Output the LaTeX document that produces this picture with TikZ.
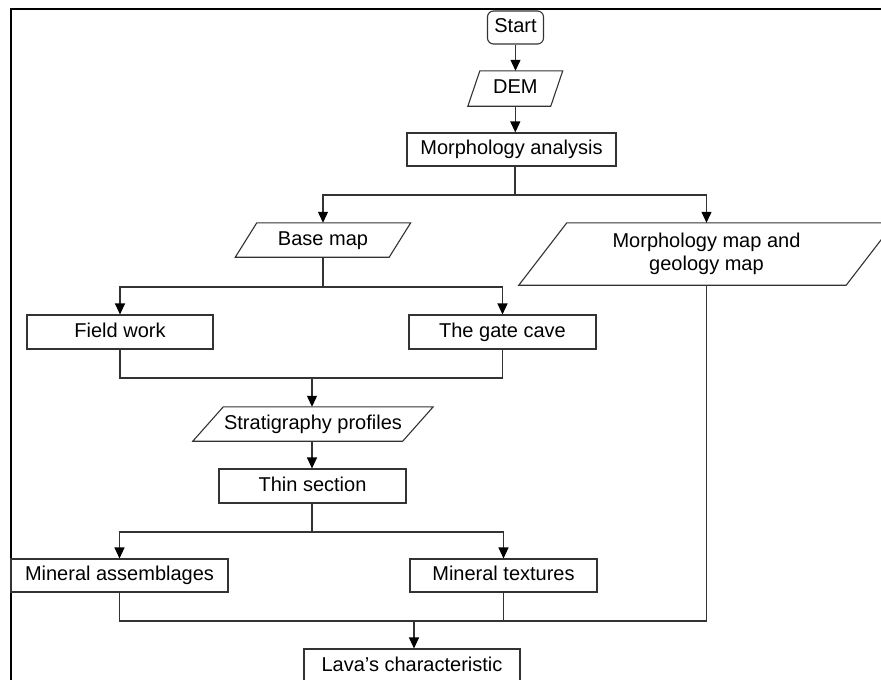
\documentclass[tikz,border=0pt]{standalone}
\usepackage{fontspec}
\setmainfont{Liberation Sans}
\usetikzlibrary{arrows.meta,calc}
\definecolor{lc}{gray}{0.2}
\newcommand\iobox[2]{\draw[line] ([xshift={0.5*#2}]#1.north west) -- ([xshift={0.5*#2}]#1.north east) -- ([xshift={-0.5*#2}]#1.south east) -- ([xshift={-0.5*#2}]#1.south west) -- cycle;}
\begin{document}
\begin{tikzpicture}[x=1pt,y=-1pt,
  line/.style={draw=lc, line width=1.1pt},
  arr/.style={line, -{Triangle[length=11pt,width=10pt,color=black]}},
  box/.style={rectangle, draw=lc, line width=1.1pt, inner sep=0pt, align=center, text height=14pt, text depth=4pt, font=\fontsize{20}{23}\selectfont},
  startbox/.style={box, rounded corners=6pt},
  io/.style={rectangle, draw=none, inner sep=0pt, align=center, text height=14pt, text depth=4pt, font=\fontsize{20}{23}\selectfont}]
\useasboundingbox (0,0) rectangle (881,680);
\clip (0,0) rectangle (881,680);
\draw[line width=2pt, black] (11,680) -- (11,9) -- (881,9);

\node[startbox, minimum width=56pt, minimum height=33pt] (start) at (515.5,27.5) {Start};
\node[io, minimum width=82.5pt, minimum height=35pt] (dem) at (515.3,88.5) {DEM};
\iobox{dem}{12}
\node[box, minimum width=209pt, minimum height=33pt] (morph) at (511.5,149.5) {Morphology analysis};
\node[io, minimum width=153.5pt, minimum height=34pt] (base) at (323,240) {Base map};
\iobox{base}{21.5}
\node[io, text height=, text depth=, minimum width=327pt, minimum height=62pt] (mmap) at (706.5,254) {Morphology map and\\geology map};
\iobox{mmap}{48}
\node[box, minimum width=186pt, minimum height=34pt] (field) at (120,332) {Field work};
\node[box, minimum width=187pt, minimum height=34pt] (gate) at (502.5,332) {The gate cave};
\node[io, minimum width=209.5pt, minimum height=34pt] (strat) at (313,424) {Stratigraphy profiles};
\iobox{strat}{30.5}
\node[box, minimum width=187pt, minimum height=34pt] (thin) at (312.5,486) {Thin section};
\node[box, minimum width=217pt, minimum height=33pt] (minA) at (119.5,575.5) {Mineral assemblages};
\node[box, minimum width=187pt, minimum height=33pt] (minT) at (503.5,575.5) {Mineral textures};
\node[box, minimum width=216pt, minimum height=34pt] (lava) at (412,666) {Lava’s characteristic};

\coordinate (j1) at (515,195);
\coordinate (j2) at (323,287);
\coordinate (j3) at (312,378);
\coordinate (j4) at (312,532);
\coordinate (j5) at (414,621);

\draw[arr] (start.south) -- (start.south |- dem.north);
\draw[arr] (dem.south) -- (dem.south |- morph.north);
\draw[line] (morph.south -| j1) -- (j1);
\draw[arr] (j1) -| (base.north);
\draw[arr] (j1) -| (mmap.north);
\draw[line] (base.south) -- (j2);
\draw[arr] (j2) -| (field.north);
\draw[arr] (j2) -| (gate.north);
\draw[line] (field.south) |- (j3);
\draw[line] (gate.south) |- (j3);
\draw[arr] (j3) -- (j3 |- strat.north);
\draw[arr] (strat.south -| j3) -- (j3 |- thin.north);
\draw[line] (thin.south -| j4) -- (j4);
\draw[arr] (j4) -| (minA.north);
\draw[arr] (j4) -| (minT.north);
\draw[line] (minA.south) |- (j5);
\draw[line] (minT.south) |- (j5);
\draw[line] (mmap.south) |- (j5);
\draw[arr] (j5) -- (j5 |- lava.north);
\end{tikzpicture}
\end{document}
